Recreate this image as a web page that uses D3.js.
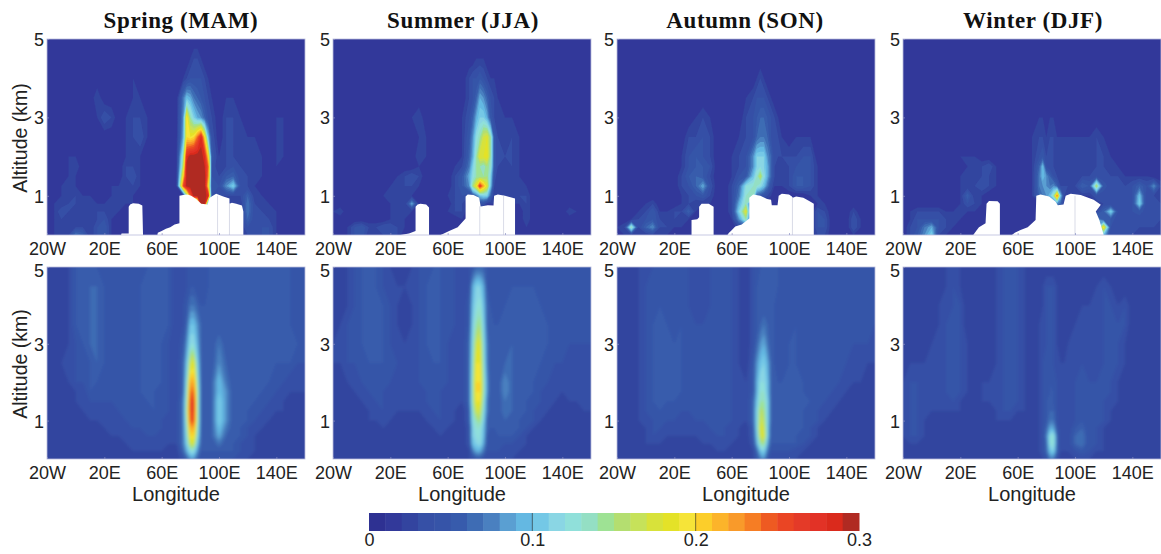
<!DOCTYPE html>
<html>
<head>
<meta charset="utf-8">
<script src="https://cdn.jsdelivr.net/npm/d3@7"></script>
<style>
html, body { margin: 0; padding: 0; background: #fff; }
svg { display: block; }
text { font-family: "Liberation Sans", Arial, sans-serif; fill: #222; }
.title { font-family: "Liberation Serif", serif; font-weight: bold; font-size: 23px; letter-spacing: 0.6px; fill: #111; }
</style>
</head>
<body>
<script>
'use strict';

var seasons = ['Spring (MAM)', 'Summer (JJA)', 'Autumn (SON)', 'Winter (DJF)'];
var lonTicks = [-20, 20, 60, 100, 140];
var altTicks = [1, 3, 5];
var cbarTicks = [0, 0.1, 0.2, 0.3];

// colorbar levels, 0 to 0.3 in steps of 0.01
var levels = ['#2e3192', '#32399a', '#33449f', '#3650a6', '#3654a8', '#375bac', '#3e6cb4', '#4a80c0', '#5a9fd2', '#64b8e2',
    '#74c8e6', '#8ad6e4', '#90e0da', '#94dfc4', '#9ee294', '#b4de70', '#c6e25a', '#d8e23a', '#e4e228', '#f6e438',
    '#fcce2a', '#fcb42a', '#f99a2a', '#f67d24', '#ee5a22', '#ea4524', '#e43a28', '#e23226', '#da2a1c', '#b02a22'];

// grid nodes; field rows below run from the top altitude down
var lons = [-20, -15, -10, -5, 0, 5, 10, 15, 20, 25, 30, 35, 40, 45, 50, 55, 60, 65, 70,
    75, 77.5, 80, 82.5, 85, 87.5, 90, 92.5, 95,
    100, 105, 110, 115, 120, 125, 130, 135, 140, 145, 150, 155, 160];
var alts = [5, 4.5, 4, 3.5, 3, 2.5, 2, 1.75, 1.5, 1.25, 1, 0.8, 0.6, 0.4, 0.2, 0];

// extinction, in units of 0.01
var springTop = [
    1,1,1,1,1,1,1,1,1,1,1,1,1,1,1,1,1,1,1, 1,1,1,1,1,1,1,1,1, 1,1,1,1,1,1,1,1,1,1,1,1,1,
    1,1,1,1,1,1,1,1,1,1,1,1,1,1,1,1,1,1,1, 1,1,2,3,3,2,1,1,1, 1,1,1,1,1,1,1,1,1,1,1,1,1,
    1,1,1,1,1,1,1,1,1,1,1,1,2,1,1,1,1,1,1, 2,3,4,4,4,4,3,2,1, 1,1,1,1,1,1,1,1,1,1,1,1,1,
    1,1,1,1,1,1,1,3,1,1,1,1,2,2,1,1,1,1,1, 7,10,9,7,6,5,4,3,2, 1,2,2,1,1,1,1,1,1,1,1,1,1,
    1,1,1,1,1,1,1,2,4,3,1,2,3,3,2,1,1,1,1, 8,20,14,11,9,8,6,4,3, 1,3,3,2,1,1,1,1,2,2,1,1,1,
    1,1,1,1,1,1,1,1,1,1,1,2,3,4,2,1,1,1,1, 9,20,19,20,24,28,20,10,4, 1,3,3,2,2,2,1,1,2,2,1,1,1,
    1,1,1,2,2,1,1,1,1,1,1,2,2,2,1,1,1,1,1, 14,28,30,30,30,30,28,20,5, 2,3,3,2,2,2,2,1,2,2,1,1,1,
    1,1,1,2,3,1,1,1,1,1,1,3,3,2,1,1,1,1,1, 16,30,30,30,30,30,29,24,4, 2,3,4,3,2,2,2,1,2,1,1,1,1,
    1,1,1,2,2,1,1,1,1,1,1,3,4,2,1,1,1,1,1, 20,30,30,30,30,30,30,23,4, 3,5,6,3,3,2,2,1,1,1,1,1,1,
    1,1,2,2,2,1,1,1,1,2,2,2,3,2,1,1,1,1,1, 25,30,30,30,30,30,30,20,4, 4,8,11,4,3,2,1,1,1,1,1,1,1,
    1,1,2,2,3,2,2,1,1,2,2,2,2,1,1,1,1,1,1, 2,14,24,30,30,30,30,28,4, 3,3,3,3,6,2,2,1,1,1,1,1,1,
    1,2,2,3,3,2,2,2,2,2,2,2,2,1,1,1,1,1,1, 1,1,1,1,10,30,30,6,2, 2,2,2,2,7,3,2,2,1,1,1,1,1,
    1,2,4,3,2,2,2,3,3,2,2,1,1,1,1,2,1,1,1, 1,1,1,1,1,1,1,1,1, 1,1,1,2,7,3,3,2,2,1,1,1,1,
    1,2,3,2,2,2,2,3,4,2,1,1,1,1,1,2,1,1,1, 1,1,1,1,1,1,1,1,1, 1,1,1,2,6,3,3,3,2,1,1,1,1,
    1,2,2,2,3,3,2,4,5,2,1,1,1,1,1,1,1,1,1, 1,1,1,1,1,1,1,1,1, 1,1,1,2,4,3,4,4,2,1,1,1,1,
    1,2,2,3,7,6,2,4,5,2,1,1,1,1,1,1,1,1,1, 1,1,1,1,1,1,1,1,1, 1,1,1,2,3,3,4,4,2,1,1,1,1
];
var summerTop = [
    1,1,1,1,1,1,1,1,1,1,1,1,1,1,1,1,1,1,1, 1,1,1,1,1,1,1,1,1, 1,1,1,1,1,1,1,1,1,1,1,1,1,
    1,1,1,1,1,1,1,1,1,1,1,1,1,1,1,1,1,1,1, 1,1,2,2,2,1,1,1,1, 1,1,1,1,1,1,1,1,1,1,1,1,1,
    1,1,1,1,1,1,1,1,1,1,1,1,1,1,1,1,1,1,1, 3,4,4,5,4,3,2,2,1, 1,1,1,1,1,1,1,1,1,1,1,1,1,
    1,1,1,1,1,1,1,1,1,1,1,1,1,1,1,1,1,1,1, 3,4,6,9,8,6,4,3,2, 1,1,1,1,1,1,1,1,1,1,1,1,1,
    1,1,1,1,1,1,1,1,1,1,1,2,3,1,1,1,1,1,2, 4,6,9,11,11,9,5,3,2, 2,2,1,1,1,1,1,1,1,1,1,1,1,
    1,1,1,1,1,1,1,1,1,1,1,1,2,2,1,1,1,1,2, 5,8,12,14,17,18,14,5,3, 2,3,2,1,1,1,1,1,1,1,1,1,1,
    1,1,1,2,1,1,1,1,1,1,1,1,3,2,1,1,1,1,2, 6,9,14,18,18,19,14,5,3, 3,3,2,1,1,1,1,1,1,1,1,1,1,
    1,1,1,2,1,1,1,1,1,1,1,1,2,1,1,1,1,2,3, 7,11,14,14,13,15,13,5,3, 2,3,2,1,1,1,1,1,1,1,1,1,1,
    1,1,1,2,1,1,1,1,1,2,3,4,3,1,1,1,1,3,5, 9,12,14,14,14,15,11,4,2, 2,3,2,1,1,1,1,1,1,1,1,1,1,
    1,1,1,2,1,1,1,1,2,2,3,3,2,1,1,1,1,3,5, 8,15,19,27,22,18,10,3,2, 2,2,2,2,1,1,1,1,1,1,1,1,1,
    1,1,1,1,1,1,1,2,3,2,2,2,1,1,1,1,2,3,4, 3,5,7,10,11,11,6,2,2, 2,2,3,3,1,1,1,1,1,1,1,1,1,
    1,1,1,1,1,1,1,1,2,2,2,9,2,1,1,1,1,3,3, 1,1,1,4,4,2,2,2,2, 2,2,2,3,1,1,1,1,1,1,1,1,1,
    2,3,1,1,2,2,1,1,2,2,2,2,1,1,1,1,2,3,3, 1,1,1,1,1,1,1,1,1, 1,1,1,3,1,1,1,1,1,3,2,1,1,
    1,1,1,1,1,1,1,1,2,2,2,1,1,1,1,1,1,1,2, 1,1,1,1,1,1,1,1,1, 1,1,1,3,1,1,1,1,1,1,1,1,1,
    1,1,2,4,5,3,3,4,4,3,2,1,1,1,1,1,1,1,1, 1,1,1,1,1,1,1,1,1, 1,1,1,2,1,1,1,1,1,1,1,1,1,
    1,1,2,4,5,2,2,3,3,3,1,1,1,1,1,1,1,1,1, 1,1,1,1,1,1,1,1,1, 1,1,1,2,1,1,1,1,1,1,1,1,1
];
var autumnTop = [
    1,1,1,1,1,1,1,1,1,1,1,1,1,1,1,1,1,1,1, 1,1,1,1,1,1,1,1,1, 1,1,1,1,1,1,1,1,1,1,1,1,1,
    1,1,1,1,1,1,1,1,1,1,1,1,1,1,1,1,1,1,1, 1,1,1,1,1,1,1,1,1, 1,1,1,1,1,1,1,1,1,1,1,1,1,
    1,1,1,1,1,1,1,1,1,1,1,1,1,1,1,1,1,1,1, 1,2,3,2,1,1,1,1,1, 1,1,1,1,1,1,1,1,1,1,1,1,1,
    1,1,1,1,1,1,1,1,1,1,1,1,1,1,1,1,1,1,2, 3,4,4,4,3,2,1,1,1, 1,1,1,1,1,1,1,1,1,1,1,1,1,
    1,1,1,1,1,1,1,1,1,1,1,2,3,2,1,1,1,1,3, 4,5,6,6,5,4,3,2,1, 1,1,1,1,1,1,1,1,1,1,1,1,1,
    1,1,1,1,1,1,1,1,1,1,3,3,4,3,1,1,1,2,3, 4,6,7,7,6,4,3,3,2, 1,2,2,2,1,1,1,1,1,1,1,1,1,
    1,1,1,1,1,1,1,1,1,2,4,5,4,3,1,1,2,3,4, 8,11,11,11,8,6,3,3,3, 3,3,4,4,1,1,1,1,1,1,1,1,1,
    1,1,1,1,1,1,1,1,1,2,4,5,5,4,1,1,2,3,4, 8,11,12,11,9,6,3,2,2, 3,4,4,4,2,1,1,1,1,1,1,1,1,
    1,1,1,1,1,1,1,1,1,3,5,6,5,3,1,1,2,4,5, 10,13,16,12,9,6,3,2,2, 3,5,5,4,2,1,1,1,1,1,1,1,1,
    1,1,1,1,1,1,1,1,1,3,4,6,9,4,1,1,3,6,12, 13,13,12,10,7,4,2,2,2, 3,5,5,4,2,1,1,1,1,1,1,1,1,
    1,1,1,1,1,1,1,1,1,2,3,4,5,3,1,1,3,7,13, 14,6,5,4,3,2,1,1,1, 1,1,1,2,2,1,1,1,1,1,1,1,1,
    1,1,1,1,2,3,1,1,1,2,3,2,2,2,1,1,3,9,14, 1,1,1,1,1,1,1,1,1, 1,1,1,1,2,2,1,1,1,1,1,1,1,
    1,1,1,2,3,5,2,2,3,3,6,2,1,1,1,1,3,11,18, 1,1,1,1,1,1,1,1,1, 1,1,1,1,4,3,1,1,1,3,1,1,1,
    1,1,2,3,4,5,3,2,3,2,2,1,1,1,1,1,2,8,14, 1,1,1,1,1,1,1,1,1, 1,1,1,1,4,4,1,1,1,4,2,1,1,
    2,3,14,3,6,8,3,3,2,2,1,1,1,1,1,1,1,3,5, 1,1,1,1,1,1,1,1,1, 1,1,1,1,4,4,1,1,1,4,2,1,1,
    1,2,3,2,2,3,2,2,1,1,1,1,1,1,1,1,1,1,2, 1,1,1,1,1,1,1,1,1, 1,1,1,1,3,3,1,1,1,2,1,1,1
];
var winterTop = [
    1,1,1,1,1,1,1,1,1,1,1,1,1,1,1,1,1,1,1, 1,1,1,1,1,1,1,1,1, 1,1,1,1,1,1,1,1,1,1,1,1,1,
    1,1,1,1,1,1,1,1,1,1,1,1,1,1,1,1,1,1,1, 1,1,1,1,1,1,1,1,1, 1,1,1,1,1,1,1,1,1,1,1,1,1,
    1,1,1,1,1,1,1,1,1,1,1,1,1,1,1,1,1,1,1, 1,1,1,1,1,1,1,1,1, 1,1,1,1,1,1,1,1,1,1,1,1,1,
    1,1,1,1,1,1,1,1,1,1,1,1,1,1,1,1,1,1,1, 1,1,1,1,1,1,1,1,1, 1,1,1,1,1,1,1,1,1,1,1,1,1,
    1,1,1,1,1,1,1,1,1,1,1,1,1,1,1,1,1,1,1, 2,2,1,2,2,1,1,1,1, 1,1,1,1,1,1,1,1,1,1,1,1,1,
    1,1,1,1,1,1,1,1,1,1,1,1,1,1,1,1,1,1,2, 3,3,2,3,3,2,2,2,2, 2,2,2,3,2,1,1,1,1,1,1,1,1,
    1,1,1,1,1,1,1,1,2,2,2,1,1,1,1,1,1,1,2, 4,5,3,3,3,2,2,2,3, 3,3,2,3,3,2,1,1,1,1,1,1,1,
    1,1,1,1,1,1,1,1,1,2,2,3,4,2,1,1,1,1,2, 6,10,4,3,3,2,2,2,2, 2,2,2,3,3,2,2,1,1,1,1,1,1,
    1,1,1,1,1,1,1,1,2,2,2,3,3,2,1,1,1,1,2, 7,10,8,6,4,3,2,2,2, 2,3,3,4,3,3,3,2,2,2,2,1,1,
    1,1,1,1,1,1,1,1,2,2,3,4,3,2,1,1,1,1,2, 7,8,8,7,8,6,3,3,3, 3,6,5,16,5,3,3,3,4,6,4,8,3,
    1,1,1,1,1,1,1,1,2,6,2,2,1,1,1,1,1,1,2, 6,7,8,10,14,24,10,3,2, 2,2,2,4,3,3,3,3,4,10,3,3,2,
    1,1,1,1,1,1,1,1,2,4,3,2,1,1,1,1,1,1,1, 1,1,1,2,5,8,6,2,1, 1,1,1,2,3,3,3,3,4,11,3,3,3,
    1,2,3,3,3,3,2,2,2,2,2,1,1,1,1,1,1,1,1, 1,1,1,1,1,1,1,1,1, 1,1,1,3,6,11,4,3,4,5,3,4,3,
    1,2,4,4,4,4,3,2,2,1,1,1,1,1,1,1,1,1,1, 1,1,1,1,1,1,1,1,1, 1,1,1,8,5,5,3,3,3,3,3,3,3,
    1,3,4,7,9,4,3,2,1,1,1,1,1,1,1,1,1,1,1, 1,1,1,1,1,1,1,1,1, 1,1,1,8,20,4,3,3,3,3,3,3,2,
    1,3,5,8,11,3,2,1,1,1,1,1,1,1,1,1,1,1,1, 1,1,1,1,1,1,1,1,1, 1,1,1,4,10,3,3,3,3,2,2,2,2
];

// extinction, in units of 0.01
var springBottom = [
    2,2,2,3,5,5,5,5,4,4,4,4,4,4,5,5,5,5,3, 3,4,4,4,4,4,4,5,5, 5,5,5,5,5,5,5,5,5,5,5,4,4,
    2,2,2,3,5,5,6,6,5,4,4,4,4,5,5,5,5,5,3, 3,4,5,5,4,4,4,5,5, 5,5,5,5,5,5,5,5,5,5,5,4,4,
    2,2,2,3,5,5,6,6,5,4,4,4,4,5,5,5,5,5,3, 4,5,7,7,6,5,5,5,5, 5,5,5,5,5,5,5,5,5,5,5,4,4,
    2,2,2,3,5,5,6,6,5,4,4,4,4,5,5,5,5,5,3, 4,6,10,10,8,6,5,5,5, 5,5,5,5,5,5,5,5,5,5,5,4,4,
    2,2,2,3,4,5,6,6,5,4,4,4,4,5,5,5,5,4,3, 5,8,12,12,9,6,5,5,5, 7,5,5,5,5,5,5,5,5,5,5,5,4,
    2,2,3,3,4,4,5,6,5,4,4,4,4,5,5,5,5,4,3, 6,10,17,18,11,6,5,5,5, 8,6,5,5,5,5,5,5,5,5,5,4,4,
    2,2,2,3,4,4,5,5,4,4,4,4,4,5,5,5,5,4,3, 6,12,22,22,13,6,5,5,6, 10,7,5,5,5,5,5,5,4,4,3,3,3,
    2,2,2,2,3,3,5,4,4,4,4,4,4,5,5,5,4,4,3, 6,13,24,24,14,6,5,5,6, 10,8,5,5,5,5,5,4,4,3,3,3,3,
    2,2,2,2,3,3,4,4,4,4,4,4,4,4,5,5,4,4,3, 7,14,26,26,14,6,5,5,6, 11,8,5,5,5,5,4,4,3,3,2,2,2,
    2,2,2,2,2,3,3,3,3,3,4,4,4,4,4,5,4,4,3, 7,15,26,26,14,6,5,5,6, 11,8,5,5,5,4,4,3,3,3,2,2,2,
    2,2,2,2,2,2,3,3,3,3,3,4,4,4,4,4,4,3,3, 7,14,25,25,14,6,5,5,6, 11,8,5,5,5,4,3,3,2,2,2,2,2,
    2,2,2,2,2,2,2,2,3,3,3,3,4,4,4,4,4,3,3, 7,13,22,22,13,6,5,5,6, 10,7,5,5,4,3,3,2,2,2,2,2,2,
    2,2,2,2,2,2,2,2,2,3,3,3,3,3,4,4,3,3,3, 7,12,20,20,12,6,5,5,6, 9,6,5,5,4,3,2,2,2,2,2,2,2,
    2,2,2,2,2,2,2,2,2,2,2,3,3,3,3,3,3,3,3, 7,11,17,17,10,6,5,5,5, 7,5,5,4,3,3,2,2,2,2,2,2,2,
    2,2,2,2,2,2,2,2,2,2,2,2,3,3,3,3,3,2,2, 6,9,12,12,8,5,5,5,5, 5,5,5,4,3,3,2,2,2,2,2,2,2,
    2,2,2,2,2,2,2,2,2,2,2,2,2,2,2,2,2,2,2, 4,6,8,8,6,4,4,4,4, 4,4,4,3,3,2,2,2,2,2,2,2,2
];
var summerBottom = [
    2,2,3,4,5,5,5,4,3,2,2,3,4,4,5,5,4,4,3, 4,5,6,6,6,5,4,4,4, 4,4,4,4,4,4,4,4,4,4,4,4,4,
    2,2,3,4,5,5,5,4,3,3,3,3,4,5,5,5,4,4,3, 4,9,11,11,9,5,4,4,4, 4,5,5,5,5,4,4,4,4,4,4,4,4,
    2,2,3,4,5,5,6,5,4,3,2,3,4,5,5,5,4,4,3, 5,10,12,13,10,6,5,4,4, 5,5,5,5,5,5,4,4,4,4,4,4,4,
    2,3,4,4,5,5,6,5,4,3,2,3,4,5,5,5,4,4,3, 5,11,14,15,11,6,5,5,5, 5,5,5,5,5,5,5,4,4,4,4,4,4,
    3,3,4,4,5,5,6,5,4,3,3,3,4,5,5,5,4,3,3, 6,12,17,18,12,7,5,5,5, 5,6,5,5,5,5,5,4,4,4,4,4,4,
    3,3,4,4,4,5,5,5,4,4,3,3,4,4,5,5,4,3,3, 6,13,19,19,13,7,5,5,5, 6,6,5,5,5,5,4,4,4,3,3,3,3,
    2,2,3,3,4,4,4,4,4,3,3,3,4,4,4,4,4,3,3, 6,14,20,20,14,8,5,5,5, 8,6,5,5,5,4,4,3,3,3,3,3,3,
    2,2,2,3,3,4,4,4,3,3,3,3,3,4,4,4,3,3,3, 6,14,20,20,14,8,5,5,5, 8,6,5,5,5,4,3,3,3,3,3,3,3,
    2,2,2,2,3,3,4,4,3,3,3,3,3,4,4,4,3,3,3, 6,14,19,19,13,7,5,5,5, 7,6,5,5,4,4,3,3,2,3,3,3,3,
    2,2,2,2,2,3,3,4,3,3,3,3,3,3,4,4,3,3,2, 5,13,17,17,12,7,5,5,5, 7,6,5,5,4,3,3,2,2,2,2,3,3,
    2,2,2,2,2,3,3,3,3,2,2,2,2,3,3,4,3,3,2, 5,12,14,15,11,6,5,5,5, 6,5,5,4,4,3,2,2,2,2,2,2,2,
    2,2,2,2,2,2,2,3,2,2,2,2,2,2,3,3,3,2,2, 4,11,13,13,10,6,5,5,5, 5,5,5,4,3,2,2,2,2,2,2,2,2,
    2,2,2,2,2,2,2,2,2,2,2,2,2,2,2,3,2,2,2, 4,11,12,12,10,5,4,4,5, 5,5,4,3,2,2,2,2,2,2,2,2,2,
    2,2,2,2,2,2,2,2,2,2,2,2,2,2,2,2,2,2,2, 4,10,11,12,9,5,4,4,4, 4,4,3,3,2,2,2,2,2,2,2,2,2,
    2,2,2,2,2,2,2,2,2,2,2,2,2,2,2,2,2,2,2, 3,7,9,9,7,4,4,4,4, 3,3,3,2,2,2,2,2,2,2,2,2,2,
    2,2,2,2,2,2,2,2,2,2,2,2,2,2,2,2,2,2,2, 3,4,5,5,4,3,3,3,3, 3,3,2,2,2,2,2,2,2,2,2,2,2
];
var autumnBottom = [
    2,2,2,3,3,4,4,4,4,4,4,3,3,4,4,4,4,3,2, 4,4,5,5,5,5,5,5,4, 4,4,4,4,4,4,4,4,4,4,4,4,4,
    2,2,2,3,4,4,4,4,4,4,4,3,3,4,4,4,4,3,2, 4,5,5,5,5,5,5,5,4, 4,4,4,4,4,4,4,4,4,4,4,4,4,
    2,2,2,3,4,4,5,4,4,4,4,3,3,4,4,4,4,3,2, 4,5,5,5,5,5,5,4,4, 4,4,4,4,4,4,4,4,4,4,4,4,4,
    2,2,2,3,4,5,5,5,4,5,4,4,4,4,4,4,4,3,2, 4,5,6,7,6,5,5,4,4, 4,5,4,4,4,4,4,4,4,4,4,4,4,
    2,2,2,3,4,5,5,5,5,5,4,4,4,4,4,4,4,3,2, 4,6,8,9,7,5,5,4,4, 5,5,4,4,4,4,4,4,4,4,4,4,3,
    2,2,2,3,4,5,5,5,5,5,4,4,4,4,4,4,4,3,2, 5,8,10,11,9,6,5,4,4, 5,5,4,4,4,4,4,4,4,3,3,3,3,
    2,2,2,3,4,5,5,5,5,5,4,4,4,4,4,4,4,3,3, 5,9,12,12,10,6,5,5,5, 5,5,5,4,4,4,4,4,3,3,3,2,2,
    2,2,2,3,4,5,5,5,5,5,4,4,4,4,4,4,4,3,3, 5,9,13,13,10,6,5,5,5, 5,5,5,4,4,4,4,3,3,2,2,2,2,
    2,2,2,3,4,5,5,5,5,4,4,4,4,4,4,4,4,3,3, 6,10,14,14,11,6,5,5,5, 6,5,5,5,4,4,3,3,2,2,2,2,2,
    2,2,2,3,4,4,5,4,4,4,4,4,4,4,4,4,4,3,3, 6,11,16,15,11,6,5,5,5, 6,5,5,4,4,3,3,2,2,2,2,2,2,
    2,2,2,3,3,4,4,4,4,3,3,4,4,4,4,4,4,3,3, 6,11,17,16,11,6,5,5,5, 6,5,5,4,4,3,2,2,2,2,2,2,2,
    2,2,2,2,3,4,4,3,3,3,3,3,3,4,4,4,3,3,2, 5,11,18,17,11,5,5,5,5, 6,5,5,4,3,2,2,2,2,2,2,2,2,
    2,2,2,2,3,4,3,3,3,3,3,3,3,3,4,4,3,3,2, 5,10,17,18,11,5,5,5,5, 6,5,4,4,3,2,2,2,2,2,2,2,2,
    2,2,2,2,3,3,3,2,2,2,2,2,3,3,3,3,3,2,2, 4,9,14,15,9,5,5,5,5, 5,5,4,3,2,2,2,2,2,2,2,2,2,
    2,2,2,2,2,2,2,2,2,2,2,2,2,2,3,3,2,2,2, 3,6,10,11,7,4,4,4,4, 4,3,3,2,2,2,2,2,2,2,2,2,2,
    2,2,2,2,2,2,2,2,2,2,2,2,2,2,2,2,2,2,2, 3,5,7,8,5,3,3,3,3, 3,3,2,2,2,2,2,2,2,2,2,2,2
];
var winterBottom = [
    2,2,2,2,2,2,3,4,3,2,2,2,2,3,4,4,4,3,2, 2,2,2,2,2,2,2,2,2, 2,2,2,2,2,2,2,2,2,2,2,2,2,
    2,2,2,2,2,2,3,4,3,2,2,2,2,3,4,4,4,3,2, 2,3,4,4,4,3,2,2,2, 2,2,2,3,4,3,2,2,2,2,2,2,2,
    2,2,2,2,2,3,3,4,4,2,2,2,2,3,4,4,4,3,2, 2,3,4,4,4,3,2,2,2, 2,3,3,3,4,4,3,4,2,2,2,2,2,
    2,2,2,2,2,3,4,4,4,2,2,2,2,3,4,4,4,3,2, 3,3,4,4,4,3,2,2,2, 3,4,3,3,4,4,4,4,2,2,2,2,2,
    2,2,2,2,3,3,4,4,4,3,2,2,2,3,4,4,4,3,2, 3,3,4,4,4,3,2,2,3, 3,4,3,3,4,4,4,3,2,2,2,2,2,
    2,3,3,3,3,3,4,4,4,3,2,2,2,3,4,4,4,3,2, 3,4,4,4,4,3,3,3,3, 3,4,3,3,4,4,4,3,2,2,2,2,2,
    3,4,4,3,3,3,4,4,4,3,2,3,3,3,4,4,4,3,2, 3,4,4,5,4,4,3,3,3, 4,5,4,4,4,4,3,2,2,2,2,2,2,
    3,4,4,3,3,3,4,4,4,3,2,3,3,3,4,4,4,3,2, 3,4,4,5,5,4,3,3,3, 4,5,4,4,4,4,3,2,2,2,2,2,2,
    3,4,4,3,3,3,3,4,3,2,2,3,3,3,4,4,4,3,2, 3,4,5,5,5,4,3,3,3, 4,5,4,4,4,3,3,2,2,2,2,2,2,
    3,4,4,3,3,3,3,3,3,2,2,2,2,3,4,4,3,3,2, 3,4,5,6,6,4,3,3,3, 4,5,4,4,4,3,2,2,2,2,2,2,2,
    3,4,4,3,2,2,2,2,2,2,2,2,2,3,3,3,2,2,2, 3,4,5,7,7,4,3,3,3, 4,5,4,4,4,3,2,2,2,2,2,2,2,
    3,4,4,3,2,2,2,2,2,2,2,2,2,2,2,2,2,2,2, 3,4,6,9,9,5,3,3,3, 5,6,4,4,3,2,2,2,2,2,2,2,2,
    3,4,4,3,2,2,2,2,2,2,2,2,2,2,2,2,2,2,2, 3,4,7,12,13,6,3,3,3, 6,7,4,4,3,2,2,2,2,2,2,2,2,
    2,3,3,2,2,2,2,2,2,2,2,2,2,2,2,2,2,2,2, 3,4,6,12,13,6,3,3,3, 6,7,4,4,3,2,2,2,2,2,2,2,2,
    2,2,2,2,2,2,2,2,2,2,2,2,2,2,2,2,2,2,2, 3,4,6,10,11,6,3,3,3, 4,5,4,3,3,2,2,2,2,2,2,2,2,
    2,2,2,2,2,2,2,2,2,2,2,2,2,2,2,2,2,2,2, 2,3,4,7,7,4,2,2,2, 3,3,3,2,2,2,2,2,2,2,2,2,2
];

// terrain outline under the top row panels, [lon, km]
var springTerrain = [[31.7, 0], [32, 0.04], [37, 0.04], [37, 0.72], [38, 0.78], [40, 0.81], [44, 0.8], [46.5, 0.75], [47, 0],
    [57, 0], [57.3, 0.06], [60, 0.1], [63, 0.16], [66, 0.2], [69, 0.27], [72.4, 0.3], [72.4, 1], [75, 1.02], [78, 1.03], [80.6, 1],
    [84, 0.92], [87.6, 0.8], [92, 0.78], [93.4, 0.95], [98, 1.05], [103, 0.98], [107.3, 0.93], [107.3, 0.8], [109, 0.82],
    [112, 0.8], [116, 0.75], [117, 0.6], [117, 0]];
var summerTerrain = [[27, 0], [33, 0.04], [37.6, 0.1], [37.6, 0.72], [39, 0.78], [41, 0.8], [45, 0.78], [47, 0.7], [47, 0],
    [55, 0], [57, 0.03], [61, 0.1], [67, 0.2], [72.5, 0.42], [72.5, 0.98], [74, 1.03], [78, 1.02], [82, 0.95], [83, 0.73],
    [88, 0.76], [92, 0.75], [92.4, 1], [95, 1.03], [100, 1], [107, 0.93], [107, 0]];
var autumnTerrain = [[32, 0], [32, 0.38], [36, 0.4], [37.3, 0.45], [37.3, 0.72], [39, 0.8], [44, 0.8], [47.4, 0.72], [47.4, 0],
    [57, 0], [58, 0.05], [60, 0.12], [62.5, 0.22], [67, 0.27], [72.3, 0.42], [72.3, 0.95], [75, 1.03], [80, 1], [84.7, 0.92],
    [87.5, 0.9], [88, 0.76], [92, 0.76], [92.8, 1], [95, 1.05], [100, 1.03], [102, 0.98], [102.6, 0.95], [105, 0.98], [110, 0.95],
    [115, 0.85], [117.3, 0.8], [117.3, 0]];
var winterTerrain = [[29, 0], [31, 0.1], [33, 0.2], [37.6, 0.3], [38.3, 0.8], [40, 0.87], [46, 0.86], [47.6, 0.8], [47.6, 0],
    [56, 0], [58, 0.06], [62, 0.13], [67, 0.2], [72.5, 0.38], [73, 1], [76, 1.03], [82, 0.98], [86.5, 0.85], [88, 0.76], [92, 0.78],
    [93.5, 1], [97, 1.05], [104, 1.02], [113, 0.9], [118, 0.77], [114.5, 0.6], [117, 0.38], [120, 0]];

// thin grey seams seen inside the white terrain, [lon, km top]
var springSeams = [[99, 1], [107.3, 0.8]];
var summerSeams = [[82.4, 0.73], [99, 1]];
var autumnSeams = [[102.4, 0.95]];
var winterSeams = [[100, 1]];

var topFields = [springTop, summerTop, autumnTop, winterTop],
    bottomFields = [springBottom, summerBottom, autumnBottom, winterBottom],
    terrains = [springTerrain, summerTerrain, autumnTerrain, winterTerrain],
    seams = [springSeams, summerSeams, autumnSeams, winterSeams];

var width = 1161,
    height = 554,
    panelW = 258,
    colX = [47, 333, 617, 903],
    titleX = [181, 463, 745, 1033],
    rowY = [{top: 39, bottom: 235}, {top: 267, bottom: 459}],
    rowBlur = [0.7, 1.6];

var svg = d3.select('body').append('svg')
    .attr('width', width)
    .attr('height', height);

var defs = svg.append('defs');

rowBlur.forEach(function(blur, i) {
    defs.append('filter')
        .attr('id', 'soft' + i)
        .attr('x', '-5%').attr('y', '-5%')
        .attr('width', '110%').attr('height', '110%')
        .append('feGaussianBlur')
        .attr('stdDeviation', blur);
});

// grid index to data units, so the contours land on the uneven grid nodes
var lonOfIndex = d3.scaleLinear().domain(lons.map(function(d, i) { return i + 0.5; })).range(lons),
    altOfIndex = d3.scaleLinear().domain(alts.map(function(d, i) { return i + 0.5; })).range(alts);

var contours = d3.contours()
    .size([lons.length, alts.length])
    .thresholds(d3.range(1, levels.length));

function drawPanel(col, row, field, terrain, seam) {
    var box = rowY[row],
        clipId = 'clip-' + col + '-' + row;

    var x = d3.scaleLinear().domain([-20, 160]).range([colX[col], colX[col] + panelW]),
        y = d3.scaleLinear().domain([0, 5]).range([box.bottom, box.top]);

    if(field.length !== lons.length * alts.length) console.error('bad field size', col, row, field.length);

    defs.append('clipPath')
        .attr('id', clipId)
        .append('rect')
        .attr('x', x(-20))
        .attr('y', y(5))
        .attr('width', panelW)
        .attr('height', box.bottom - box.top);

    var toPixels = d3.geoTransform({
        point: function(i, j) {
            this.stream.point(x(lonOfIndex(i)), y(altOfIndex(j)));
        }
    });
    var path = d3.geoPath(toPixels);

    var g = svg.append('g').attr('clip-path', 'url(#' + clipId + ')');
    var inner = g.append('g').attr('filter', 'url(#soft' + row + ')');

    inner.append('rect')
        .attr('x', x(-20) - 10)
        .attr('y', y(5) - 10)
        .attr('width', panelW + 20)
        .attr('height', box.bottom - box.top + 20)
        .attr('fill', levels[0]);

    inner.selectAll('path.level')
        .data(contours(field))
        .enter().append('path')
        .attr('class', 'level')
        .attr('d', path)
        .attr('fill', function(d) { return levels[d.value]; });

    if(terrain) {
        inner.append('path')
            .attr('d', d3.line()
                .x(function(d) { return x(d[0]); })
                .y(function(d) { return y(d[1]); })(terrain) + 'Z')
            .attr('fill', '#fff');

        g.selectAll('line.seam')
            .data(seam)
            .enter().append('line')
            .attr('class', 'seam')
            .attr('x1', function(d) { return x(d[0]); })
            .attr('x2', function(d) { return x(d[0]); })
            .attr('y1', function(d) { return y(d[1]); })
            .attr('y2', y(0))
            .attr('stroke', '#c9cbdc')
            .attr('stroke-width', 0.7);
    }

    svg.append('rect')
        .attr('x', x(-20))
        .attr('y', y(5))
        .attr('width', panelW)
        .attr('height', box.bottom - box.top)
        .attr('fill', 'none')
        .attr('stroke', '#b9bcdc')
        .attr('stroke-width', 0.8);

    var xAxis = d3.axisBottom(x)
        .tickValues(lonTicks)
        .tickSize(-2)
        .tickPadding(7)
        .tickFormat(function(d) { return d < 0 ? -d + 'W' : d + 'E'; });

    var yAxis = d3.axisLeft(y)
        .tickValues(altTicks)
        .tickSize(-2)
        .tickPadding(3)
        .tickFormat(d3.format('d'));

    var gx = svg.append('g').attr('transform', 'translate(0,' + box.bottom + ')').call(xAxis);
    var gy = svg.append('g').attr('transform', 'translate(' + x(-20) + ',0)').call(yAxis);

    [gx, gy].forEach(function(a) {
        a.select('.domain').remove();
        a.selectAll('line').attr('stroke', '#8f93c4').attr('stroke-width', 0.7);
        a.selectAll('text').style('font-size', '18px').attr('fill', '#222');
    });
    gy.selectAll('text').attr('dy', '0.36em');

    // the 5 of the lower row sits just under the upper longitude labels
    if(row === 1) gy.selectAll('text').filter(function(d) { return d === 5; }).attr('dy', '0.55em');

    if(col === 0) {
        svg.append('text')
            .attr('transform', 'translate(27,' + ((box.top + box.bottom) / 2 + 1) + ') rotate(-90)')
            .attr('text-anchor', 'middle')
            .style('font-size', '19.5px')
            .text('Altitude (km)');
    }

    if(row === 1) {
        svg.append('text')
            .attr('x', x(-20) + panelW / 2)
            .attr('y', 501)
            .attr('text-anchor', 'middle')
            .style('font-size', '20px')
            .text('Longitude');
    }
}

seasons.forEach(function(name, i) {
    svg.append('text')
        .attr('class', 'title')
        .attr('x', titleX[i])
        .attr('y', 28)
        .attr('text-anchor', 'middle')
        .text(name);

    drawPanel(i, 0, topFields[i], terrains[i], seams[i]);
    drawPanel(i, 1, bottomFields[i], null, null);
});

// colorbar
var cbarX = d3.scaleLinear().domain([0, 0.3]).range([369, 859]);

var cbar = svg.append('g');

cbar.selectAll('rect')
    .data(levels)
    .enter().append('rect')
    .attr('x', function(d, i) { return cbarX(i / 100); })
    .attr('y', 513)
    .attr('width', function(d, i) { return cbarX((i + 1) / 100) - cbarX(i / 100) + 0.5; })
    .attr('height', 18)
    .attr('fill', function(d) { return d; });

var cbarAxis = d3.axisBottom(cbarX)
    .tickValues(cbarTicks)
    .tickSize(0)
    .tickPadding(2)
    .tickFormat(function(d) { return d === 0 ? '0' : d3.format('.1f')(d); });

var gc = svg.append('g').attr('transform', 'translate(0,531)').call(cbarAxis);
gc.select('.domain').remove();
gc.selectAll('text').style('font-size', '18px').attr('fill', '#222');

svg.selectAll('line.cbar-tick')
    .data(cbarTicks.slice(1, 3))
    .enter().append('line')
    .attr('class', 'cbar-tick')
    .attr('x1', function(d) { return cbarX(d); })
    .attr('x2', function(d) { return cbarX(d); })
    .attr('y1', 513)
    .attr('y2', 531)
    .attr('stroke', '#222')
    .attr('stroke-width', 0.6);
</script>
</body>
</html>
